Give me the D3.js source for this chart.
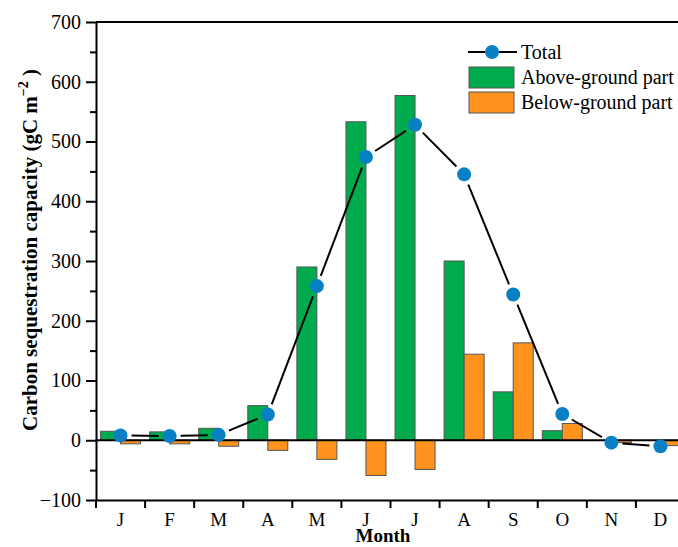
<!DOCTYPE html>
<html>
<head>
<meta charset="utf-8">
<script src="https://cdn.jsdelivr.net/npm/d3@7"></script>
<style>
  body { margin: 0; background: #fff; }
  svg { display: block; font-family: "Liberation Serif", "Times New Roman", serif; }
</style>
</head>
<body>
<div id="chart"></div>
<script>
// data
var months = ["J", "F", "M", "A", "M", "J", "J", "A", "S", "O", "N", "D"];
var aboveGround = [15, 14, 20, 58, 290, 533, 577, 300, 81, 16, 0, 0];
var belowGround = [-6, -6, -10, -17, -32, -59, -49, 144, 163, 28, -4, -9];
var total = [8, 7, 9, 43, 258, 474, 528, 445, 244, 44, -4, -10];
var yTicks = [-100, 0, 100, 200, 300, 400, 500, 600, 700];

var W = 678, H = 547;
var margin = { top: 22, right: -7, bottom: 47, left: 96 },
    width = W - margin.left - margin.right,
    height = H - margin.top - margin.bottom;

var idx = months.map((d, i) => i);

var x = d3.scaleBand()
    .domain(idx)
    .range([0, width])
    .padding(0);

var y = d3.scaleLinear()
    .domain([-100, 700])
    .range([height, 0]);

var svg = d3.select("#chart").append("svg")
    .attr("width", W)
    .attr("height", H);

var g = svg.append("g")
    .attr("transform", "translate(" + margin.left + "," + margin.top + ")");

var bw = 20;
var cx = i => x(i) + x.bandwidth() / 2;

// above-ground bars
g.selectAll(".above")
    .data(aboveGround)
    .enter().append("rect")
    .attr("class", "above")
    .attr("x", (d, i) => cx(i) - bw)
    .attr("y", d => y(Math.max(d, 0)))
    .attr("width", bw)
    .attr("height", d => Math.abs(y(d) - y(0)))
    .attr("fill", "#00ab4e")
    .attr("stroke", "#555")
    .attr("stroke-width", 1);

// below-ground bars
g.selectAll(".below")
    .data(belowGround)
    .enter().append("rect")
    .attr("class", "below")
    .attr("x", (d, i) => cx(i))
    .attr("y", d => y(Math.max(d, 0)))
    .attr("width", bw)
    .attr("height", d => Math.abs(y(d) - y(0)))
    .attr("fill", "#ff931e")
    .attr("stroke", "#555")
    .attr("stroke-width", 1);

// zero line
g.append("line")
    .attr("x1", 0).attr("x2", width)
    .attr("y1", y(0)).attr("y2", y(0))
    .attr("stroke", "#000")
    .attr("stroke-width", 2);

// total line, segments stop short of the markers
var gap = 11;
var segs = d3.pairs(total.map((v, i) => [cx(i), y(v)]));
g.selectAll(".seg")
    .data(segs)
    .enter().append("line")
    .attr("class", "seg")
    .each(function (p) {
        var dx = p[1][0] - p[0][0], dy = p[1][1] - p[0][1];
        var len = Math.sqrt(dx * dx + dy * dy);
        var ux = dx / len, uy = dy / len;
        d3.select(this)
            .attr("x1", p[0][0] + ux * gap).attr("y1", p[0][1] + uy * gap)
            .attr("x2", p[1][0] - ux * gap).attr("y2", p[1][1] - uy * gap);
    })
    .attr("stroke", "#000")
    .attr("stroke-width", 2);

g.selectAll(".dot")
    .data(total)
    .enter().append("circle")
    .attr("class", "dot")
    .attr("cx", (d, i) => cx(i))
    .attr("cy", d => y(d))
    .attr("r", 7)
    .attr("fill", "#0a80c4");

// axes
var yAxis = g.append("g")
    .call(d3.axisLeft(y).tickValues(yTicks).tickSize(10).tickSizeOuter(0).tickPadding(5));
yAxis.select(".domain").attr("stroke-width", 2);
yAxis.selectAll(".tick line").attr("stroke-width", 2);
yAxis.selectAll("text").attr("font-size", 20).attr("font-family", "Liberation Serif");

g.append("g")
    .call(d3.axisLeft(y).tickValues(d3.range(-50, 700, 100)).tickSize(6).tickFormat(""))
    .call(a => a.select(".domain").remove())
    .selectAll(".tick line").attr("stroke-width", 2);

var xAxis = g.append("g")
    .attr("transform", "translate(0," + height + ")")
    .call(d3.axisBottom(x).tickSize(0).tickFormat(i => months[i]));
xAxis.select(".domain").attr("stroke-width", 2);
xAxis.selectAll("text")
    .attr("font-size", 19)
    .attr("font-family", "Liberation Serif")
    .attr("dy", null)
    .attr("y", 26);

// x ticks on band edges
g.append("g")
    .selectAll("line")
    .data(idx)
    .enter().append("line")
    .attr("x1", i => x(i)).attr("x2", i => x(i))
    .attr("y1", height).attr("y2", height + 8)
    .attr("stroke", "#000")
    .attr("stroke-width", 2);

// top frame line
g.append("line")
    .attr("x1", 0).attr("x2", width)
    .attr("y1", 0).attr("y2", 0)
    .attr("stroke", "#000")
    .attr("stroke-width", 2);

// axis titles
svg.append("text")
    .attr("x", 383)
    .attr("y", 542)
    .attr("text-anchor", "middle")
    .attr("font-size", 19)
    .attr("font-weight", "bold")
    .text("Month");

var yt = svg.append("text")
    .attr("transform", "translate(37," + 250 + ") rotate(-90)")
    .attr("text-anchor", "middle")
    .attr("font-size", 21)
    .attr("font-weight", "bold");
yt.append("tspan").text("Carbon sequestration capacity (gC m");
yt.append("tspan").attr("dy", -9).attr("font-size", 14).text("\u22122");
yt.append("tspan").attr("dy", 9).text(" )");

// legend
var lg = svg.append("g").attr("transform", "translate(468,52)");
lg.append("line").attr("x1", 0).attr("x2", 49).attr("y1", 0).attr("y2", 0)
    .attr("stroke", "#000").attr("stroke-width", 2);
lg.append("circle").attr("cx", 24).attr("cy", 0).attr("r", 7).attr("fill", "#0a80c4");
lg.append("text").attr("x", 53).attr("y", 7).attr("font-size", 20).text("Total");

lg.append("rect").attr("x", 1).attr("y", 15).attr("width", 45).attr("height", 21)
    .attr("fill", "#00ab4e").attr("stroke", "#555");
lg.append("text").attr("x", 53).attr("y", 32).attr("font-size", 20).text("Above-ground part");

lg.append("rect").attr("x", 1).attr("y", 40).attr("width", 45).attr("height", 21)
    .attr("fill", "#ff931e").attr("stroke", "#555");
lg.append("text").attr("x", 53).attr("y", 57).attr("font-size", 20).text("Below-ground part");
</script>
</body>
</html>
